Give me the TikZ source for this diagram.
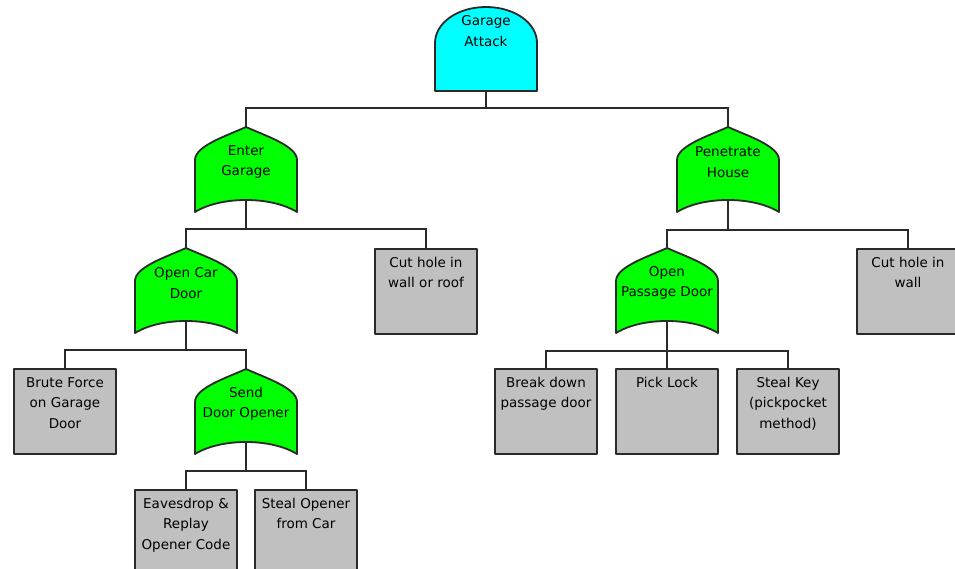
\documentclass[tikz,border=0pt]{standalone}
\usepackage{fontspec}
\setmainfont{DejaVu Sans}
\definecolor{gacyan}{HTML}{00FFFF}
\definecolor{orgreen}{HTML}{00FF00}
\definecolor{boxgray}{HTML}{C0C0C0}
\definecolor{linegray}{HTML}{2A2A2A}
\tikzset{
  outline/.style={draw=linegray, line width=1.8pt, line join=round},
  wire/.style={draw=linegray, line width=1.8pt},
  evbox/.style={outline, fill=boxgray, minimum width=102pt, minimum height=85pt, inner sep=0pt, anchor=north},
  lbl/.style={font=\fontsize{13.5}{20.5}\selectfont, align=center, inner sep=0pt, text=black},
}
% OR gate: name, centre x, peak y, text
\newcommand\orgate[4]{%
  \path[outline, fill=orgreen] (#2-51,#3+33) .. controls (#2-51,#3+19) and (#2-20,#3+9) .. (#2,#3)
     .. controls (#2+20,#3+9) and (#2+51,#3+19) .. (#2+51,#3+33) -- (#2+51,#3+85)
     .. controls (#2+25,#3+69) and (#2-25,#3+69) .. (#2-51,#3+85) -- cycle;
  \node[lbl] (#1) at (#2,#3+35) {#4};
}
% basic event box: name, centre x, top y, text
\newcommand\evbox[4]{%
  \node[evbox] (#1) at (#2,#3) {};
  \node[lbl, anchor=north] (#1-t) at ([yshift=-9pt]#1.north) {#4};
}
\begin{document}
\begin{tikzpicture}[x=1pt,y=-1pt]
  \useasboundingbox (0,0) rectangle (955,569);
  \fill[white] (0,0) rectangle (955,569);
  \clip (0,0) rectangle (955,569);
  \begin{scope}[xshift=0.5pt]
  % connection points
  \coordinate (ga-bot) at (485.5,91);
  \coordinate (eg-top) at (245.5,127);
  \coordinate (eg-bot) at (245.5,200);
  \coordinate (ph-top) at (727.5,127);
  \coordinate (ph-bot) at (727.5,200);
  \coordinate (ocd-top) at (185.5,248);
  \coordinate (ocd-bot) at (185.5,321);
  \coordinate (sdo-top) at (245.5,369);
  \coordinate (sdo-bot) at (245.5,442);
  \coordinate (opd-top) at (666.5,248);
  \coordinate (opd-bot) at (666.5,321);
  \coordinate (cr-top) at (425.5,248);
  \coordinate (cw-top) at (907.5,248);
  \coordinate (bf-top) at (64.5,368);
  \coordinate (ev-top) at (185.5,489);
  \coordinate (so-top) at (305.5,489);
  \coordinate (bd-top) at (545.5,368);
  \coordinate (pl-top) at (666.5,368);
  \coordinate (sk-top) at (787.5,368);

  % connectors (each tree drawn once, no overlapping strokes)
  \draw[wire] (ga-bot) -- ++(0,17) coordinate (gabus) -| (eg-top) (gabus) -| (ph-top);
  \draw[wire] (eg-bot) -- ++(0,29) coordinate (egbus) -| (ocd-top) (egbus) -| (cr-top);
  \draw[wire] (ocd-bot) -- ++(0,29) coordinate (ocdbus) -| (bf-top) (ocdbus) -| (sdo-top);
  \draw[wire] (sdo-bot) -- ++(0,29) coordinate (sdobus) -| (ev-top) (sdobus) -| (so-top);
  \draw[wire] (ph-bot) -- ++(0,30) coordinate (phbus) -| (opd-top) (phbus) -| (cw-top);
  \draw[wire] (opd-bot) -- ++(0,30) coordinate (opdbus) -| (bd-top) (opdbus) -| (sk-top) (opdbus) -- (pl-top);

  % AND gate (top event)
  \path[outline, fill=gacyan] (434.5,91) -- (434.5,43) .. controls (434.5,23) and (457,7) .. (485.5,7)
     .. controls (514,7) and (536.5,23) .. (536.5,43) -- (536.5,91) -- cycle;
  \node[lbl] (ga) at (485.5,31) {Garage\\Attack};

  % OR gates
  \orgate{egg}{245.5}{127}{Enter\\Garage}
  \orgate{phg}{727.5}{127}{Penetrate\\House}
  \orgate{ocdg}{185.5}{248}{Open Car\\Door}
  \orgate{sdog}{245.5}{369}{Send\\Door Opener}
  \orgate{opdg}{666.5}{248}{Open\\Passage Door}

  % basic events
  \evbox{cr}{425.5}{248}{Cut hole in\\wall or roof}
  \evbox{cw}{907.5}{248}{Cut hole in\\wall}
  \evbox{bf}{64.5}{368}{Brute Force\\on Garage\\Door}
  \evbox{ev}{185.5}{489}{Eavesdrop \&\\Replay\\Opener Code}
  \evbox{so}{305.5}{489}{Steal Opener\\from Car}
  \evbox{bd}{545.5}{368}{Break down\\passage door}
  \evbox{pl}{666.5}{368}{Pick Lock}
  \evbox{sk}{787.5}{368}{Steal Key\\(pickpocket\\method)}
  \end{scope}
\end{tikzpicture}
\end{document}
